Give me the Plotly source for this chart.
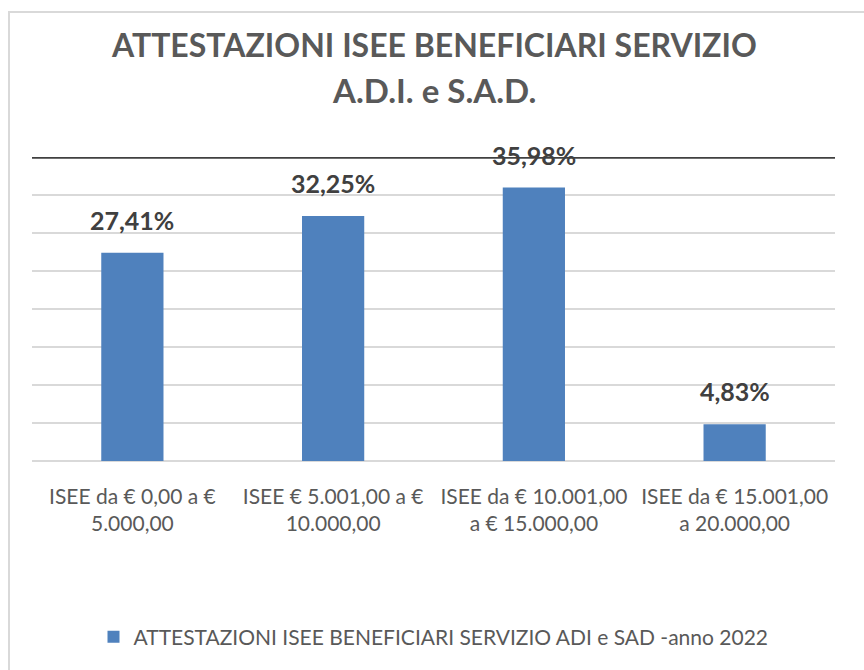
import plotly.graph_objects as go

categories = [
    "ISEE da € 0,00 a €<br>5.000,00",
    "ISEE € 5.001,00 a €<br>10.000,00",
    "ISEE da € 10.001,00<br>a € 15.000,00",
    "ISEE da € 15.001,00<br>a 20.000,00",
]
values = [27.41, 32.25, 35.98, 4.83]
labels = ["27,41%", "32,25%", "35,98%", "4,83%"]
series_name = "ATTESTAZIONI ISEE BENEFICIARI SERVIZIO ADI e SAD -anno 2022"
title_lines = ["ATTESTAZIONI ISEE BENEFICIARI SERVIZIO", "A.D.I. e S.A.D."]

FONT = "Lato"
BAR = "#4f81bd"
GRID = "#d9d9d9"

fig = go.Figure()
fig.add_trace(go.Bar(
    x=categories, y=values, name=series_name,
    marker=dict(color=BAR, line=dict(width=0)),
    showlegend=True,
))

# value labels above each bar
for c, v, t in zip(categories, values, labels):
    fig.add_annotation(
        x=c, y=v, xref="x", yref="y", text=f"<b>{t}</b>", showarrow=False,
        yanchor="bottom", yshift=16,
        font=dict(family=FONT, size=25, color="#404040"),
    )

# two-line title, placed in pixels above the plot top
for line, py, size in zip(title_lines, (44, 90), (32, 33)):
    fig.add_annotation(
        x=0.5, y=1.0, xref="paper", yref="paper", text=f"<b>{line}</b>",
        showarrow=False, xanchor="center", yanchor="middle", yshift=157 - py,
        font=dict(family=FONT, size=size, color="#595959"),
    )

# dark line at the top of the value range
fig.add_shape(type="line", xref="paper", yref="y", x0=0, x1=1, y0=40, y1=40,
              line=dict(color="#404040", width=3.5))

# chart frame
fig.add_shape(type="rect", xref="paper", yref="paper",
              x0=(9 - 32) / 803, x1=2, y0=-2, y1=(461 - 12) / 304,
              line=dict(color=GRID, width=2), layer="below")

fig.update_layout(
    width=864, height=670,
    margin=dict(l=32, r=29, t=157, b=209),
    paper_bgcolor="white", plot_bgcolor="white",
    bargap=0.69,
    font=dict(family=FONT, color="#595959"),
    xaxis=dict(showgrid=False, ticks="", showline=False, zeroline=False,
               ticklabelstandoff=21,
               tickfont=dict(family=FONT, size=21, color="#595959")),
    yaxis=dict(range=[0, 40], dtick=5, showticklabels=False, showgrid=True,
               gridcolor=GRID, gridwidth=1.5, zeroline=True, zerolinecolor=GRID,
               zerolinewidth=1.5, showline=False),
    legend=dict(orientation="h", x=0.5, xanchor="center", y=-(637 - 461) / 304,
                yanchor="middle",
                font=dict(family=FONT, size=21, color="#595959"),
                itemwidth=30),
)

fig.write_html("out.html")
